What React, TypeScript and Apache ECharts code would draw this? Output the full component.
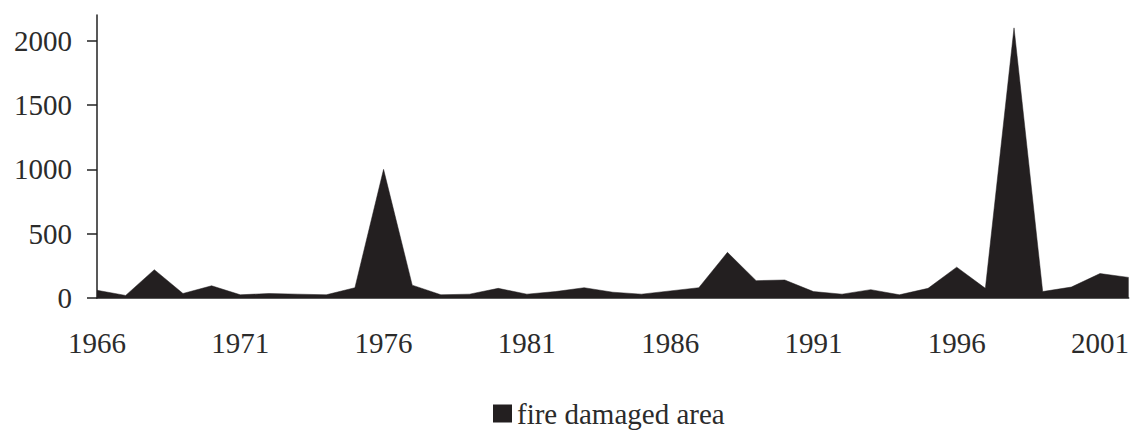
import React, { useEffect, useRef } from "react";
import * as echarts from "echarts";

const years = [
  "1966","1967","1968","1969","1970","1971","1972","1973","1974","1975",
  "1976","1977","1978","1979","1980","1981","1982","1983","1984","1985",
  "1986","1987","1988","1989","1990","1991","1992","1993","1994","1995",
  "1996","1997","1998","1999","2000","2001","2002",
];
const fireDamagedArea = [
  60, 20, 220, 35, 95, 25, 35, 30, 25, 80,
  1000, 100, 25, 30, 75, 30, 50, 80, 45, 30,
  55, 80, 355, 135, 140, 50, 30, 65, 25, 75,
  240, 75, 2100, 50, 85, 190, 160,
];
const yTicks = [0, 500, 1000, 1500, 2000];
const seriesName = "fire damaged area";

const FONT = '"Liberation Serif", "Times New Roman", serif';
const TEXT = "#2b2b2b";
const FILL = "#231f20";

export default function App() {
  const ref = useRef<HTMLDivElement>(null);
  useEffect(() => {
    if (!ref.current) return;
    const chart = echarts.init(ref.current, undefined, { renderer: "svg" });
    chart.setOption({
      animation: false,
      backgroundColor: "#ffffff",
      textStyle: { fontFamily: FONT },
      grid: { left: 97, right: 0, top: 15, bottom: 132, containLabel: false },
      legend: {
        data: [{ name: seriesName, icon: "rect" }],
        left: 493,
        top: 399,
        padding: 0,
        itemWidth: 19,
        itemHeight: 18,
        itemGap: 5,
        textStyle: { fontFamily: FONT, fontSize: 29, color: TEXT, padding: [0, 0, 0, 0] },
        itemStyle: { color: FILL },
      },
      xAxis: {
        type: "category",
        data: years,
        boundaryGap: false,
        axisLine: { show: true, lineStyle: { color: "#222", width: 1.5 } },
        axisTick: { show: false },
        axisLabel: {
          interval: 4,
          margin: 30,
          fontFamily: FONT,
          fontSize: 29,
          color: TEXT,
        },
        splitLine: { show: false },
      },
      yAxis: {
        type: "value",
        min: 0,
        max: 2200,
        interval: 500,
        axisLine: { show: true, lineStyle: { color: "#222", width: 1.5 } },
        axisTick: {
          show: true,
          length: 10,
          customValues: yTicks,
          lineStyle: { color: "#222", width: 1.5 },
        },
        axisLabel: {
          margin: 25,
          fontFamily: FONT,
          fontSize: 29,
          color: TEXT,
          customValues: yTicks,
          formatter: (v: number) => String(v),
        },
        splitLine: { show: false },
      },
      series: [
        {
          name: seriesName,
          type: "line",
          data: fireDamagedArea,
          symbol: "none",
          lineStyle: { width: 0.5, color: FILL },
          itemStyle: { color: FILL },
          areaStyle: { color: FILL, opacity: 1 },
        },
      ],
    });
    return () => chart.dispose();
  }, []);
  return (
    <div
      ref={ref}
      style={{ position: "fixed", left: 0, top: 0, width: 1132, height: 430, background: "#fff" }}
    />
  );
}
